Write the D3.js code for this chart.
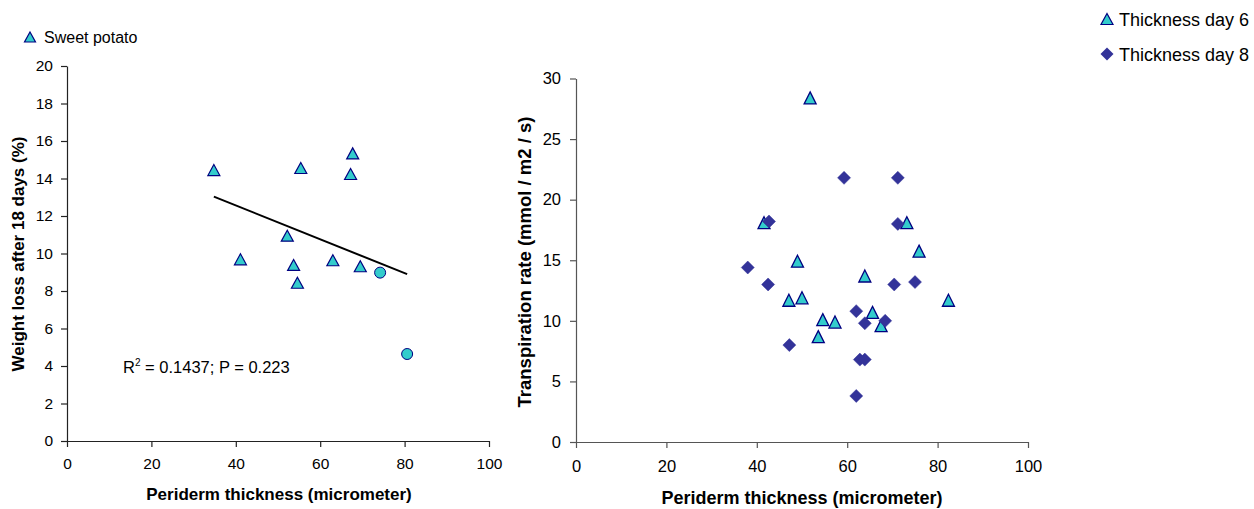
<!DOCTYPE html>
<html>
<head>
<meta charset="utf-8">
<script src="https://cdn.jsdelivr.net/npm/d3@7"></script>
<style>
  html, body { margin: 0; padding: 0; background: #fff; }
  svg { display: block; font-family: "Liberation Sans", Arial, sans-serif; }
</style>
</head>
<body>
<svg id="chart" width="1254" height="509"></svg>
<script>
// ---- Left panel: sweet potato weight loss vs periderm thickness ----
const potatoThickness = [34.8, 41.1, 52.2, 53.7, 54.6, 55.4, 63.0, 67.2, 67.7, 69.5];
const potatoWeightLoss = [14.45, 9.69, 10.95, 9.39, 8.44, 14.56, 9.64, 14.24, 15.34, 9.32];
const outlierThickness = [74.2, 80.6];
const outlierWeightLoss = [8.98, 4.64];
const leftXTicks = [0, 20, 40, 60, 80, 100];
const leftYTicks = [0, 2, 4, 6, 8, 10, 12, 14, 16, 18, 20];

// ---- Right panel: transpiration rate vs periderm thickness ----
const day6Thickness = [51.8, 41.6, 73.2, 75.9, 49.0, 47.1, 50.0, 54.6, 57.3, 53.6, 63.9, 65.6, 67.5, 82.4];
const day6Rate      = [28.4, 18.1, 18.1, 15.75, 14.92, 11.7, 11.9, 10.1, 9.9, 8.7, 13.7, 10.7, 9.6, 11.7];
const day8Thickness = [38.0, 42.5, 42.7, 47.2, 59.3, 62.0, 62.0, 62.8, 63.9, 63.9, 68.4, 70.4, 71.2, 71.2, 75.0];
const day8Rate      = [14.4, 13.0, 18.2, 8.0, 21.8, 10.8, 3.8, 6.8, 6.8, 9.8, 10.0, 13.0, 18.0, 21.8, 13.2];
const rightXTicks = [0, 20, 40, 60, 80, 100];
const rightYTicks = [0, 5, 10, 15, 20, 25, 30];

const seriesNames = ["Sweet potato", "Thickness day 6", "Thickness day 8"];

const svg = d3.select("#chart");
const TRI_FILL = "#33cccc", TRI_STROKE = "#000080", DIA_FILL = "#333399";

function trianglePath(x, y, w, h) {
  return `M${x},${y - h / 2}L${x + w / 2},${y + h / 2}L${x - w / 2},${y + h / 2}Z`;
}
function diamondPath(x, y, r) {
  return `M${x},${y - r}L${x + r},${y}L${x},${y + r}L${x - r},${y}Z`;
}

function drawAxes(g, x, y, xTicks, yTicks, opts) {
  const xAxis = g.append("g")
    .attr("transform", `translate(0,${y.range()[0]})`)
    .call(d3.axisBottom(x).tickValues(xTicks).tickSize(6).tickPadding(opts.xPad).tickSizeOuter(0));
  const yAxis = g.append("g")
    .attr("transform", `translate(${x.range()[0]},0)`)
    .call(d3.axisLeft(y).tickValues(yTicks).tickSize(6).tickPadding(opts.yPad).tickSizeOuter(0));
  [xAxis, yAxis].forEach(a => {
    a.select(".domain").attr("stroke", opts.color).attr("stroke-width", 1.2);
    a.selectAll(".tick line").attr("stroke", opts.color).attr("stroke-width", 1.2);
    a.selectAll(".tick text")
      .attr("fill", "#000")
      .style("font-family", "Liberation Sans, Arial, sans-serif")
      .style("font-size", opts.tickSize + "px");
  });
}

// ================= LEFT PANEL =================
const xL = d3.scaleLinear().domain([0, 100]).range([67, 489]);
const yL = d3.scaleLinear().domain([0, 20]).range([441, 66]);
const gL = svg.append("g");
drawAxes(gL, xL, yL, leftXTicks, leftYTicks, { color: "#222", tickSize: 15.5, xPad: 11, yPad: 8 });

// least-squares trend line over all points of the panel
const allX = potatoThickness.concat(outlierThickness);
const allY = potatoWeightLoss.concat(outlierWeightLoss);
const mx = d3.mean(allX), my = d3.mean(allY);
const slope = d3.sum(allX, (v, i) => (v - mx) * (allY[i] - my)) / d3.sum(allX, v => (v - mx) ** 2);
const intercept = my - slope * mx;
const [x0, x1] = d3.extent(allX);
gL.append("line")
  .attr("x1", xL(x0)).attr("y1", yL(intercept + slope * x0))
  .attr("x2", xL(x1)).attr("y2", yL(intercept + slope * x1))
  .attr("stroke", "#000").attr("stroke-width", 2);

gL.selectAll("path.tri")
  .data(potatoThickness.map((v, i) => [v, potatoWeightLoss[i]]))
  .join("path").attr("class", "tri")
  .attr("d", d => trianglePath(xL(d[0]), yL(d[1]), 12, 11))
  .attr("fill", TRI_FILL).attr("stroke", TRI_STROKE).attr("stroke-width", 1.2);

gL.selectAll("circle.out")
  .data(outlierThickness.map((v, i) => [v, outlierWeightLoss[i]]))
  .join("circle").attr("class", "out")
  .attr("cx", d => xL(d[0])).attr("cy", d => yL(d[1])).attr("r", 5.5)
  .attr("fill", TRI_FILL).attr("stroke", TRI_STROKE).attr("stroke-width", 1);

// regression annotation
const ann = gL.append("text").attr("x", 123).attr("y", 373)
  .style("font-size", "16.5px").attr("fill", "#000");
ann.append("tspan").text("R");
ann.append("tspan").attr("dy", -7).style("font-size", "10px").text("2");
ann.append("tspan").attr("dy", 7).text(" = 0.1437; P = 0.223");

// axis titles
gL.append("text").attr("x", 279).attr("y", 500).attr("text-anchor", "middle")
  .style("font-size", "17px").style("font-weight", "bold")
  .text("Periderm thickness (micrometer)");
gL.append("text").attr("transform", "translate(24,254) rotate(-90)").attr("text-anchor", "middle")
  .style("font-size", "17px").style("font-weight", "bold")
  .text("Weight loss after 18 days (%)");

// legend
gL.append("path").attr("d", trianglePath(30, 37, 11, 10))
  .attr("fill", TRI_FILL).attr("stroke", TRI_STROKE).attr("stroke-width", 1.2);
gL.append("text").attr("x", 44).attr("y", 43).style("font-size", "16px").text(seriesNames[0]);

// ================= RIGHT PANEL =================
const xR = d3.scaleLinear().domain([0, 100]).range([576, 1028]);
const yR = d3.scaleLinear().domain([0, 30]).range([442, 78.5]);
const gR = svg.append("g");
drawAxes(gR, xR, yR, rightXTicks, rightYTicks, { color: "#555", tickSize: 16.5, xPad: 12, yPad: 9 });

gR.selectAll("path.tri")
  .data(day6Thickness.map((v, i) => [v, day6Rate[i]]))
  .join("path").attr("class", "tri")
  .attr("d", d => trianglePath(xR(d[0]), yR(d[1]), 12, 12))
  .attr("fill", TRI_FILL).attr("stroke", TRI_STROKE).attr("stroke-width", 1.3);

gR.selectAll("path.dia")
  .data(day8Thickness.map((v, i) => [v, day8Rate[i]]))
  .join("path").attr("class", "dia")
  .attr("d", d => diamondPath(xR(d[0]), yR(d[1]), 6.5))
  .attr("fill", DIA_FILL).attr("stroke", DIA_FILL).attr("stroke-width", 0.5);

gR.append("text").attr("x", 802).attr("y", 504).attr("text-anchor", "middle")
  .style("font-size", "18px").style("font-weight", "bold")
  .text("Periderm thickness (micrometer)");
gR.append("text").attr("transform", "translate(531,262) rotate(-90)").attr("text-anchor", "middle")
  .style("font-size", "18.5px").style("font-weight", "bold")
  .text("Transpiration rate (mmol / m2 / s)");

// legend (top right)
const lg = svg.append("g");
lg.append("path").attr("d", trianglePath(1107, 19, 12, 11))
  .attr("fill", TRI_FILL).attr("stroke", TRI_STROKE).attr("stroke-width", 1.2);
lg.append("text").attr("x", 1119).attr("y", 25.5).style("font-size", "18px").text(seriesNames[1]);
lg.append("path").attr("d", diamondPath(1107, 54, 6.5)).attr("fill", DIA_FILL);
lg.append("text").attr("x", 1119).attr("y", 60.5).style("font-size", "18px").text(seriesNames[2]);
</script>
</body>
</html>
